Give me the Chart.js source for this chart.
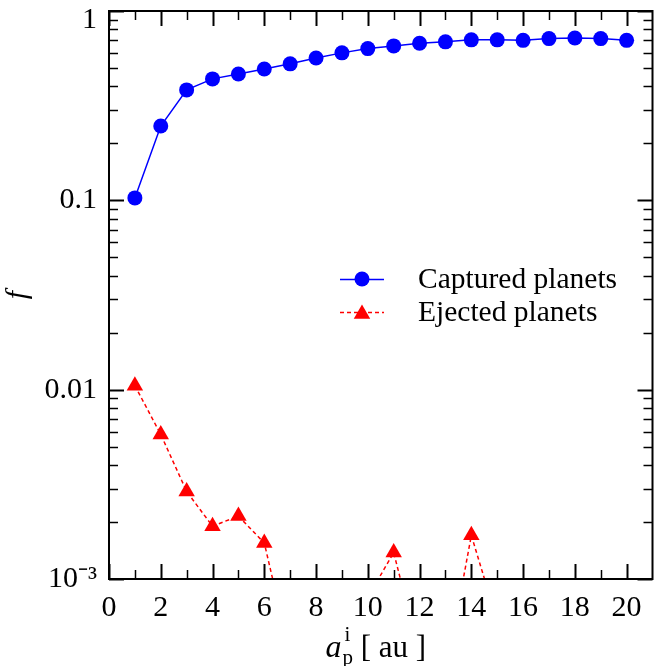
<!DOCTYPE html>
<html><head><meta charset="utf-8">
<script src="https://cdn.jsdelivr.net/npm/chart.js@4/dist/chart.umd.min.js"></script>
<style>html,body{margin:0;padding:0;background:#fff}#wrap{width:662px;height:666px;position:relative}</style>
</head><body><div id="wrap"><canvas id="c"></canvas></div>
<script>
// ---- data ----
const apInit = [1,2,3,4,5,6,7,8,9,10,11,12,13,14,15,16,17,18,19,20];
const capturedFrac = [0.103,0.247,0.383,0.438,0.465,0.494,0.526,0.565,0.601,0.633,0.654,0.676,0.687,0.704,0.704,0.700,0.715,0.720,0.715,0.700];
const ejectedFrac = [0.0105,0.0058,0.0029,0.0019,0.00215,0.00155,0.0004,0.0003,0.0003,0.0008,0.00138,0.0004,0.00031,0.0017,0.0006,0.0003,0.0003,0.0003,0.0003,0.0003];
const seriesLabels = ['Captured planets','Ejected planets'];
const xMajorTicks = [0,2,4,6,8,10,12,14,16,18,20];
const xMinorTicks = [1,3,5,7,9,11,13,15,17,19];
const yDecadeTicks = [0.001,0.01,0.1,1];
const yTickLabels = ['10\u207B\u00B3','0.01','0.1','1'];

const SERIF = '"Liberation Serif","Times New Roman",serif';

const framePlugin = {
  id:'frame',
  afterDatasetsDraw(chart){
    const {ctx, chartArea:a, scales:{x,y}} = chart;
    ctx.save();
    ctx.strokeStyle='#000';
    const tick=(x1,y1,x2,y2,w)=>{ctx.lineWidth=w;ctx.beginPath();ctx.moveTo(x1,y1);ctx.lineTo(x2,y2);ctx.stroke();};
    xMajorTicks.forEach(v=>{const p=Math.round(x.getPixelForValue(v))+0.5;tick(p,a.bottom,p,a.bottom-15,2);tick(p,a.top,p,a.top+15,2);});
    xMinorTicks.forEach(v=>{const p=Math.round(x.getPixelForValue(v))+0.5;tick(p,a.bottom,p,a.bottom-9,1.5);tick(p,a.top,p,a.top+9,1.5);});
    for(let d=0; d<yDecadeTicks.length; d++){
      const dec=yDecadeTicks[d];
      const p=Math.round(y.getPixelForValue(dec))+0.5;
      tick(a.left,p,a.left+15,p,2);tick(a.right,p,a.right-15,p,2);
      if(d<yDecadeTicks.length-1){
        for(let m=2;m<=9;m++){
          const q=Math.round(y.getPixelForValue(dec*m))+0.5;
          tick(a.left,q,a.left+9,q,1.5);tick(a.right,q,a.right-9,q,1.5);
        }
      }
    }
    ctx.lineWidth=2;
    ctx.strokeRect(a.left,a.top,a.right-a.left,a.bottom-a.top);
    // x title: a_p^i [ au ]
    const base=657;
    const parts=[['italic 32px '+SERIF,'a',0],['21px '+SERIF,'p',7],['21px '+SERIF,'i',-16],['31px '+SERIF,' [ au ]',0]];
    const widths=parts.map(p=>{ctx.font=p[0];return ctx.measureText(p[1]).width;});
    const total=widths[0]+Math.max(widths[1],widths[2])+widths[3]+1;
    let cx=(a.left+a.right)/2-total/2-5;
    ctx.fillStyle='#000';ctx.textBaseline='alphabetic';ctx.textAlign='left';
    ctx.font=parts[0][0];ctx.fillText(parts[0][1],cx,base);cx+=widths[0]+1;
    ctx.font=parts[1][0];ctx.fillText(parts[1][1],cx,base+parts[1][2]);
    ctx.font=parts[2][0];ctx.fillText(parts[2][1],cx+2,base+parts[2][2]);
    cx+=Math.max(widths[1],widths[2]);
    ctx.font=parts[3][0];ctx.fillText(parts[3][1],cx,base);
    // legend
    const ds=chart.data.datasets;
    const ly=[279,312];
    ds.forEach((d,i)=>{
      ctx.save();
      ctx.strokeStyle=d.borderColor;ctx.lineWidth=d.borderWidth;
      ctx.setLineDash(d.borderDash||[]);
      ctx.beginPath();ctx.moveTo(340,ly[i]+0.5);ctx.lineTo(384,ly[i]+0.5);ctx.stroke();
      ctx.setLineDash([]);
      ctx.fillStyle=d.pointBackgroundColor;
      Chart.helpers.drawPoint(ctx,{pointStyle:d.pointStyle,radius:d.pointRadius,borderWidth:0},362,ly[i]+(d.pointStyle==='triangle'?2:0));
      ctx.restore();
      ctx.fillStyle='#000';ctx.font='29.5px '+SERIF;ctx.textBaseline='middle';
      ctx.fillText(d.label,418,ly[i]+1);
    });
    ctx.restore();
  }
};

new Chart(document.getElementById('c'),{
  type:'line',
  data:{
    labels:apInit,
    datasets:[
      {label:seriesLabels[0],data:apInit.map((v,i)=>({x:v,y:capturedFrac[i]})),borderColor:'#0000ff',backgroundColor:'#0000ff',pointBackgroundColor:'#0000ff',pointBorderColor:'#0000ff',borderWidth:1.5,pointRadius:7.5,pointBorderWidth:0,pointStyle:'circle',tension:0},
      {label:seriesLabels[1],data:apInit.map((v,i)=>({x:v,y:ejectedFrac[i]})),borderColor:'#ff0000',backgroundColor:'#ff0000',pointBackgroundColor:'#ff0000',pointBorderColor:'#ff0000',borderWidth:1.5,borderDash:[4,3],pointRadius:9.5,pointBorderWidth:0,pointStyle:'triangle',tension:0}
    ]
  },
  options:{
    responsive:true,maintainAspectRatio:false,animation:false,
    layout:{padding:{top:11,right:9,left:0,bottom:0}},
    plugins:{legend:{display:false},tooltip:{enabled:false}},
    scales:{
      x:{type:'linear',min:0,max:21,
        grid:{display:false,drawTicks:false},border:{display:false},
        afterBuildTicks:s=>{s.ticks=xMajorTicks.map(v=>({value:v}));},
        afterFit:s=>{s.height=87;s.paddingLeft=0;s.paddingRight=0;},
        ticks:{padding:11,color:'#000',font:{family:SERIF,size:30},maxRotation:0,autoSkip:false,callback:v=>String(v)}
      },
      y:{type:'logarithmic',min:0.001,max:1,
        grid:{display:false,drawTicks:false},border:{display:false},
        afterBuildTicks:s=>{s.ticks=yDecadeTicks.map(v=>({value:v}));},
        afterFit:s=>{s.width=109;s.paddingTop=0;s.paddingBottom=0;},
        ticks:{padding:12,color:'#000',
          font:(c)=>(c.tick && c.tick.value===1)?{family:SERIF,size:30,lineHeight:0.6}:{family:SERIF,size:30},
          autoSkip:false,
          callback:(v)=>{const l=yTickLabels[yDecadeTicks.indexOf(v)] ?? ''; return v===1?['',l]:l;}},
        title:{display:true,text:'f',color:'#000',font:{family:SERIF,size:30,style:'italic'},padding:{top:0,bottom:0}}
      }
    }
  },
  plugins:[framePlugin]
});
</script>
</body></html>
